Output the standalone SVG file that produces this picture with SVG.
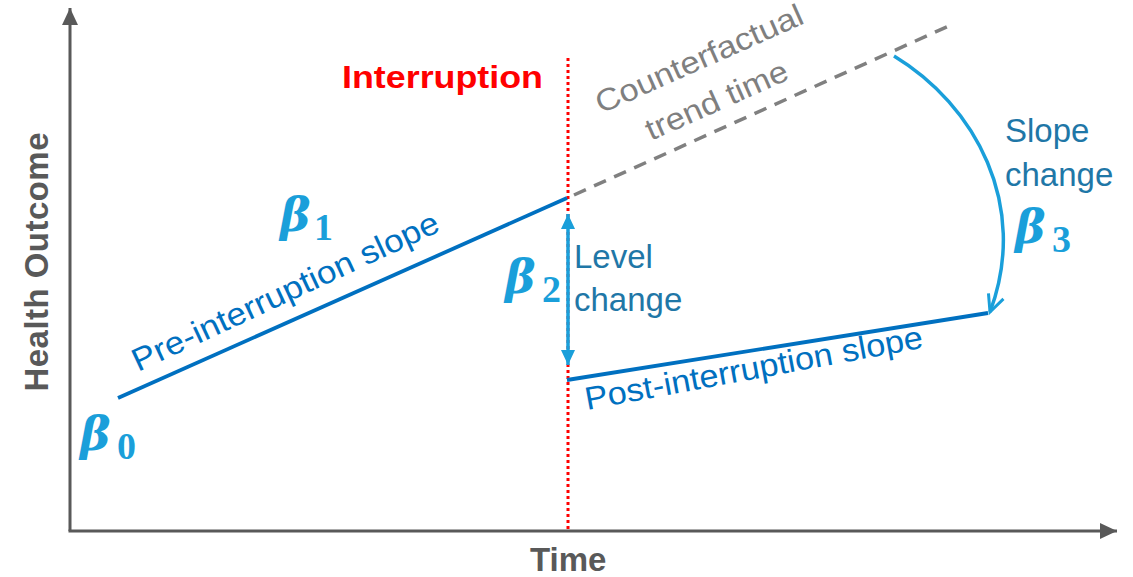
<svg xmlns="http://www.w3.org/2000/svg" width="1133" height="577" viewBox="0 0 1133 577">
<style>
.ax{stroke:#595959;stroke-width:3;fill:none}
.axl{font-family:"Liberation Sans",Arial,sans-serif;font-weight:bold;font-size:33px;fill:#595959}
.trend{stroke:#0070C0;stroke-width:3.8;fill:none;stroke-linecap:butt}
.lbl{font-family:"Liberation Sans",Arial,sans-serif;font-size:32px;fill:#0070C0}
.chg{font-family:"Liberation Sans",Arial,sans-serif;font-size:33px;fill:#1F77A7}
.cf{font-family:"Liberation Sans",Arial,sans-serif;font-size:31px;fill:#7F7F7F}
.beta{font-family:"DejaVu Serif","Liberation Serif",serif;font-weight:bold;font-style:italic;font-size:46px;fill:#1A9FDA}
.sub{font-family:"Liberation Serif","Times New Roman",serif;font-weight:bold;font-size:38px;fill:#1A9FDA}
</style>
<defs>
<marker id="axArrow" markerWidth="18" markerHeight="18" refX="17" refY="8" orient="auto" markerUnits="userSpaceOnUse">
<path d="M0,0 L17,8 L0,16 Z" fill="#595959"/>
</marker>
<marker id="lvlArrow" markerWidth="16" markerHeight="14" refX="15" refY="7" orient="auto-start-reverse" markerUnits="userSpaceOnUse">
<path d="M0,0 L15,7 L0,14 Z" fill="#1A9FDA"/>
</marker>
<marker id="openArrow" markerWidth="22" markerHeight="22" refX="18" refY="10" orient="auto" markerUnits="userSpaceOnUse">
<path d="M1,2 L18,10 L1,18" fill="none" stroke="#1A9FDA" stroke-width="3"/>
</marker>
</defs>
<rect width="1133" height="577" fill="#ffffff"/>

<g id="axes">
<line class="ax" x1="70" y1="531" x2="70" y2="8" marker-end="url(#axArrow)"/>
<line class="ax" x1="68.5" y1="531" x2="1117" y2="531" marker-end="url(#axArrow)"/>
<text class="axl" transform="translate(48,262) rotate(-90)" text-anchor="middle" textLength="259">Health Outcome</text>
<text class="axl" x="530" y="571">Time</text>
</g>

<g id="interruption">
<line x1="568" y1="58" x2="568" y2="531" stroke="#FF0000" stroke-width="3" stroke-dasharray="3 3"/>
<text x="342" y="88" font-family="'Liberation Sans',Arial,sans-serif" font-weight="bold" font-size="32" fill="#FF0000" textLength="201" lengthAdjust="spacingAndGlyphs">Interruption</text>
</g>

<g id="connectors">
<line id="pre-slope" class="trend" x1="118" y1="398" x2="567" y2="198"/>
<line id="post-slope" class="trend" x1="567" y1="380" x2="988" y2="313"/>
<line id="counterfactual" x1="574" y1="195" x2="951" y2="25" stroke="#808080" stroke-width="3.5" stroke-dasharray="13 9"/>
<line id="level-change" x1="568" y1="214" x2="568" y2="365" stroke="#1A9FDA" stroke-width="3.5" marker-start="url(#lvlArrow)" marker-end="url(#lvlArrow)"/>
<path id="slope-change" d="M894,56 C975,105 1030,205 990,312" fill="none" stroke="#1A9FDA" stroke-width="3.5" marker-end="url(#openArrow)"/>
</g>

<g id="label-pre">
<text class="lbl" transform="translate(138,372) rotate(-25)" textLength="335" lengthAdjust="spacingAndGlyphs">Pre-interruption slope</text>
</g>
<g id="label-post">
<text class="lbl" transform="translate(587,410) rotate(-10.5)" textLength="343" lengthAdjust="spacingAndGlyphs">Post-interruption slope</text>
</g>
<g id="label-counterfactual">
<text class="cf" transform="translate(601,114) rotate(-24)" textLength="224" lengthAdjust="spacingAndGlyphs">Counterfactual</text>
<text class="cf" transform="translate(651,141) rotate(-24)" textLength="153" lengthAdjust="spacingAndGlyphs">trend time</text>
</g>
<g id="label-level">
<text class="chg" x="574" y="268">Level</text>
<text class="chg" x="574" y="311">change</text>
</g>
<g id="label-slope">
<text class="chg" x="1005" y="142">Slope</text>
<text class="chg" x="1005" y="186">change</text>
</g>

<g id="beta0"><text class="beta" x="80" y="450">β</text><text class="sub" x="117" y="459">0</text></g>
<g id="beta1"><text class="beta" x="280" y="231">β</text><text class="sub" x="314" y="240">1</text></g>
<g id="beta2"><text class="beta" x="505" y="293">β</text><text class="sub" x="542" y="302">2</text></g>
<g id="beta3"><text class="beta" x="1015" y="243">β</text><text class="sub" x="1052" y="252">3</text></g>
</svg>
